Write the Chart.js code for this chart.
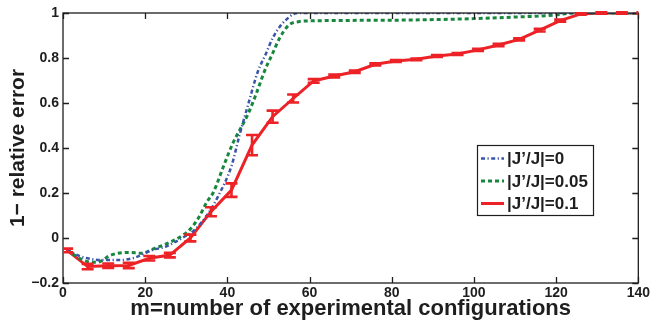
<!DOCTYPE html>
<html>
<head>
<meta charset="utf-8">
<script src="https://cdn.jsdelivr.net/npm/chart.js@4.4.1/dist/chart.umd.min.js"></script>
<style>
  html, body { margin: 0; padding: 0; background: #fff; }
  #wrap { width: 652px; height: 325px; position: relative; }
</style>
</head>
<body>
<div id="wrap"><canvas id="chart"></canvas></div>
<script>
// tick labels
var xTickLabels = ['0', '20', '40', '60', '80', '100', '120', '140'];
var yTickLabels = ['\u22120.2', '0', '0.2', '0.4', '0.6', '0.8', '1'];

// |J'/J| = 0  (blue dash-dot)
var mBlue = [1, 4, 6, 9, 14, 17.5, 21.5, 25, 29, 32, 35, 37.7, 41, 43, 45, 47.4, 49.4, 51, 53, 54, 56, 57.5, 80, 100, 120, 141];
var vBlue = [-0.053, -0.08, -0.09, -0.098, -0.098, -0.087, -0.055, -0.038, 0.0, 0.036, 0.1, 0.184, 0.32, 0.46, 0.59, 0.739, 0.82, 0.888, 0.945, 0.965, 0.994, 1, 1, 1, 1, 1];

// |J'/J| = 0.05  (green dotted)
var mGreen = [1, 4, 6, 8.2, 11.8, 15.9, 19.1, 22.3, 26.4, 29.2, 30.8, 33, 35, 36.5, 39.3, 41.3, 43, 45, 47, 49, 51, 52.7, 55, 57.5, 60, 80, 100, 110, 120, 124, 141];
var vGreen = [-0.053, -0.09, -0.105, -0.108, -0.075, -0.064, -0.068, -0.046, -0.016, 0.013, 0.036, 0.09, 0.16, 0.2, 0.33, 0.42, 0.48, 0.55, 0.64, 0.74, 0.82, 0.888, 0.947, 0.962, 0.965, 0.968, 0.975, 0.982, 0.991, 1, 1];

// |J'/J| = 0.1  (red solid, with error bars)
var mRed = [1, 6, 11, 16, 21, 26, 31, 36, 41, 46, 51, 56, 61, 66, 71, 76, 81, 86, 91, 96, 101, 106, 111, 116, 121, 126, 131, 136, 141];
var vRed = [-0.055, -0.127, -0.123, -0.122, -0.09, -0.076, 0.0, 0.117, 0.213, 0.413, 0.539, 0.62, 0.698, 0.72, 0.739, 0.772, 0.787, 0.794, 0.809, 0.818, 0.836, 0.858, 0.883, 0.924, 0.966, 0.996, 1, 1, 1];
var eRed = [0.008, 0.012, 0.01, 0.012, 0.01, 0.01, 0.015, 0.02, 0.03, 0.045, 0.027, 0.018, 0.008, 0.006, 0.005, 0.005, 0.004, 0.004, 0.004, 0.004, 0.005, 0.005, 0.005, 0.006, 0.005, 0.003, 0.003, 0.003, 0.003];

var seriesLabels = ['|J\u2019/J|=0', '|J\u2019/J|=0.05', '|J\u2019/J|=0.1'];

function pairs(xs, ys) {
  return xs.map(function(x, i) { return {x: x, y: ys[i]}; });
}

var FONT = '"Liberation Sans", Arial, Helvetica, sans-serif';
var INK = '#1e1e1e';

// box + inward ticks on all four sides
var frame = {
  id: 'frame',
  afterDatasetsDraw: function(chart) {
    var ctx = chart.ctx, a = chart.chartArea;
    var xs = chart.scales.x, ys = chart.scales.y;
    ctx.save();
    ctx.strokeStyle = INK;
    ctx.lineWidth = 1.3;
    ctx.strokeRect(a.left, a.top, a.right - a.left, a.bottom - a.top);
    ctx.beginPath();
    xs.ticks.forEach(function(t) {
      var px = Math.round(xs.getPixelForValue(t.value)) + 0.5;
      ctx.moveTo(px, a.bottom); ctx.lineTo(px, a.bottom - 6);
      ctx.moveTo(px, a.top); ctx.lineTo(px, a.top + 6);
    });
    ys.ticks.forEach(function(t) {
      var py = Math.round(ys.getPixelForValue(t.value)) + 0.5;
      ctx.moveTo(a.left, py); ctx.lineTo(a.left + 6, py);
      ctx.moveTo(a.right, py); ctx.lineTo(a.right - 6, py);
    });
    ctx.stroke();
    ctx.restore();
  }
};

// error bars for the red series
var errorBars = {
  id: 'errorBars',
  afterDatasetsDraw: function(chart) {
    var ctx = chart.ctx, a = chart.chartArea;
    var xs = chart.scales.x, ys = chart.scales.y;
    var ds = chart.data.datasets[2];
    ctx.save();
    ctx.beginPath();
    ctx.rect(a.left, a.top - 3, a.right - a.left, a.bottom - a.top + 6);
    ctx.clip();
    ctx.strokeStyle = ds.borderColor;
    ctx.lineWidth = 2.6;
    ctx.beginPath();
    mRed.forEach(function(m, i) {
      var px = xs.getPixelForValue(m);
      var y1 = ys.getPixelForValue(vRed[i] + eRed[i]);
      var y2 = ys.getPixelForValue(vRed[i] - eRed[i]);
      ctx.moveTo(px, y1); ctx.lineTo(px, y2);
      ctx.moveTo(px - 6, y1); ctx.lineTo(px + 6, y1);
      ctx.moveTo(px - 6, y2); ctx.lineTo(px + 6, y2);
    });
    ctx.stroke();
    ctx.restore();
  }
};

// legend box inside the plot
var legendBox = {
  id: 'legendBox',
  afterDraw: function(chart) {
    var ctx = chart.ctx;
    var bx = 477, by = 145, bw = 116, bh = 70;
    ctx.save();
    ctx.fillStyle = '#fff';
    ctx.fillRect(bx, by, bw, bh);
    ctx.strokeStyle = INK;
    ctx.lineWidth = 1.2;
    ctx.strokeRect(bx + 0.5, by + 0.5, bw, bh);
    ctx.font = 'bold 17px ' + FONT;
    ctx.textBaseline = 'middle';
    chart.data.datasets.forEach(function(ds, i) {
      var cy = by + 13.5 + i * 22.5;
      ctx.strokeStyle = ds.borderColor;
      ctx.lineWidth = ds.borderWidth;
      ctx.setLineDash(ds.borderDash || []);
      ctx.beginPath();
      ctx.moveTo(bx + 4, cy); ctx.lineTo(bx + 27, cy);
      ctx.stroke();
      ctx.setLineDash([]);
      ctx.fillStyle = INK;
      ctx.fillText(ds.label, bx + 30, cy + 1);
    });
    ctx.restore();
  }
};

new Chart(document.getElementById('chart'), {
  type: 'line',
  data: {
    datasets: [
      {
        label: seriesLabels[0],
        data: pairs(mBlue, vBlue),
        borderColor: '#3a55a8',
        borderWidth: 2.5,
        borderDash: [4, 2.5, 1.2, 2.5],
        pointRadius: 0,
        cubicInterpolationMode: 'monotone'
      },
      {
        label: seriesLabels[1],
        data: pairs(mGreen, vGreen),
        borderColor: '#16873c',
        borderWidth: 3,
        borderDash: [4, 3],
        pointRadius: 0,
        cubicInterpolationMode: 'monotone'
      },
      {
        label: seriesLabels[2],
        data: pairs(mRed, vRed),
        borderColor: '#ec2227',
        borderWidth: 3,
        pointRadius: 0,
        tension: 0
      }
    ]
  },
  options: {
    responsive: true,
    maintainAspectRatio: false,
    animation: false,
    layout: { padding: { top: 13, right: 11, left: 0, bottom: 0 } },
    plugins: {
      legend: { display: false },
      tooltip: { enabled: false }
    },
    scales: {
      x: {
        type: 'linear',
        min: 0,
        max: 140,
        grid: { display: false, drawTicks: false },
        border: { display: false },
        ticks: {
          stepSize: 20,
          padding: 2,
          color: INK,
          font: { family: FONT, size: 14, weight: 'bold' },
          maxRotation: 0,
          callback: function(v, i) { return xTickLabels[i]; }
        },
        title: {
          display: true,
          text: 'm=number of experimental configurations',
          color: INK,
          font: { family: FONT, size: 22, weight: 'bold', lineHeight: 1 },
          padding: { top: 0, bottom: 5 }
        },
        afterFit: function(s) { s.height = 42; }
      },
      y: {
        min: -0.2,
        max: 1,
        grid: { display: false, drawTicks: false },
        border: { display: false },
        ticks: {
          stepSize: 0.2,
          padding: 4,
          color: INK,
          font: { family: FONT, size: 14, weight: 'bold' },
          callback: function(v, i) { return yTickLabels[i]; }
        },
        title: {
          display: true,
          text: '1\u2212 relative error',
          color: INK,
          font: { family: FONT, size: 21, weight: 'bold', lineHeight: 1 },
          padding: { top: 8, bottom: 0 }
        },
        afterFit: function(s) { s.width = 63; }
      }
    }
  },
  plugins: [frame, errorBars, legendBox]
});
</script>
</body>
</html>
